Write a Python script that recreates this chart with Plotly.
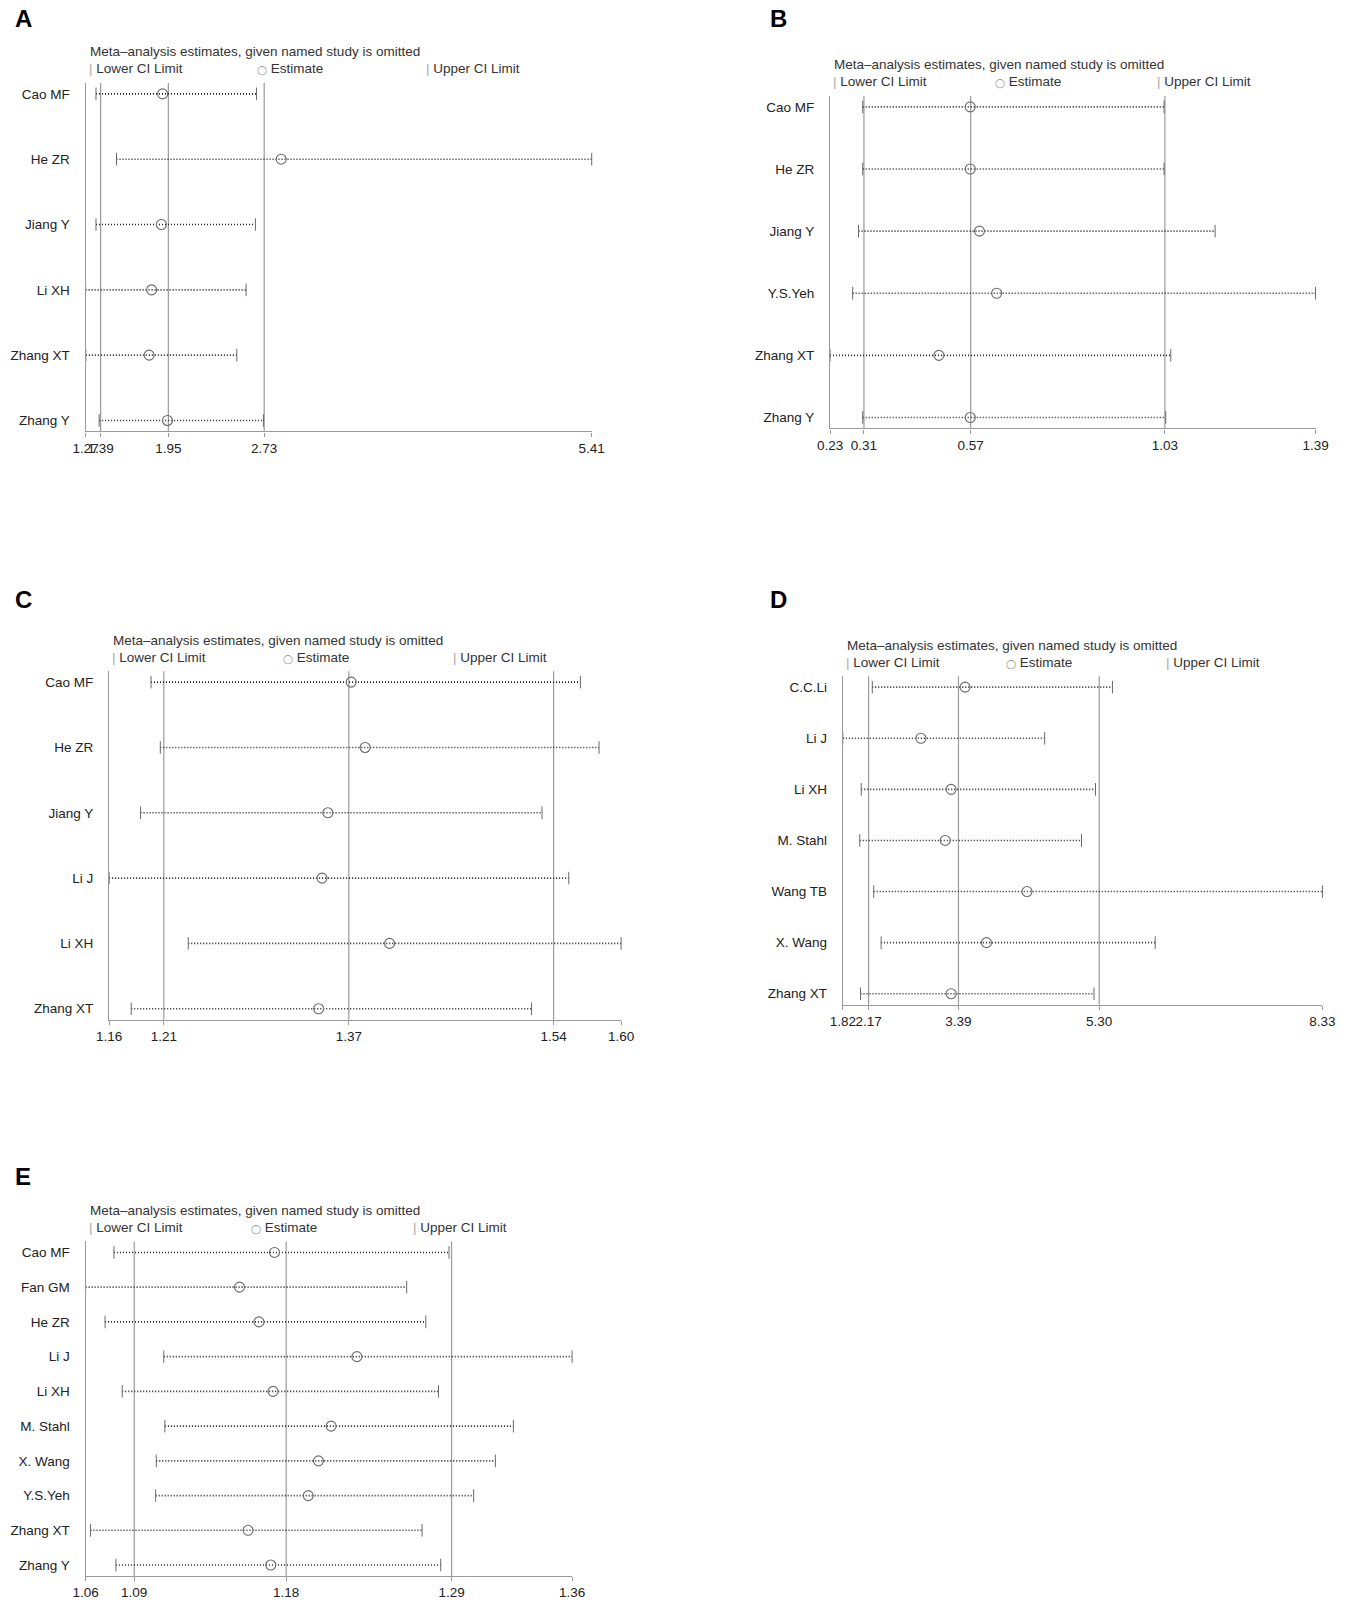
"""Leave-one-out sensitivity plots (panels A-E)"""
import plotly.graph_objects as go

# ---- data ---------------------------------------------------------------
A_studies = ["Cao MF", "He ZR", "Jiang Y", "Li XH", "Zhang XT", "Zhang Y"]
A_est = [1.90, 2.87, 1.89, 1.81, 1.79, 1.94]
A_lower = [1.355, 1.523, 1.355, 1.270, 1.272, 1.381]
A_upper = [2.668, 5.410, 2.659, 2.583, 2.507, 2.725]
A_overall = [1.393, 1.947, 2.731]
A_ticks = ["1.27", "1.39", "1.95", "2.73", "5.41"]

B_studies = ["Cao MF", "He ZR", "Jiang Y", "Y.S.Yeh", "Zhang XT", "Zhang Y"]
B_est = [0.565, 0.565, 0.587, 0.628, 0.490, 0.565]
B_lower = [0.308, 0.308, 0.298, 0.284, 0.230, 0.308]
B_upper = [1.028, 1.028, 1.150, 1.390, 1.044, 1.032]
B_overall = [0.311, 0.566, 1.030]
B_ticks = ["0.23", "0.31", "0.57", "1.03", "1.39"]

C_studies = ["Cao MF", "He ZR", "Jiang Y", "Li J", "Li XH", "Zhang XT"]
C_est = [1.368, 1.380, 1.348, 1.343, 1.401, 1.340]
C_lower = [1.196, 1.204, 1.187, 1.160, 1.228, 1.179]
C_upper = [1.565, 1.581, 1.532, 1.555, 1.600, 1.523]
C_overall = [1.207, 1.366, 1.542]
C_ticks = ["1.16", "1.21", "1.37", "1.54", "1.60"]

D_studies = ["C.C.Li", "Li J", "Li XH", "M. Stahl", "Wang TB", "X. Wang", "Zhang XT"]
D_est = [3.48, 2.88, 3.29, 3.21, 4.32, 3.77, 3.29]
D_lower = [2.22, 1.82, 2.07, 2.05, 2.24, 2.34, 2.06]
D_upper = [5.48, 4.56, 5.25, 5.06, 8.33, 6.06, 5.23]
D_overall = [2.17, 3.39, 5.30]
D_ticks = ["1.82", "2.17", "3.39", "5.30", "8.33"]

E_studies = ["Cao MF", "Fan GM", "He ZR", "Li J", "Li XH", "M. Stahl",
             "X. Wang", "Y.S.Yeh", "Zhang XT", "Zhang Y"]
E_est = [1.1765, 1.1549, 1.1669, 1.2273, 1.1756, 1.2114, 1.2036, 1.1973, 1.1602, 1.1742]
E_lower = [1.0775, 1.0600, 1.0720, 1.1082, 1.0826, 1.1089, 1.1036, 1.1032, 1.0630, 1.0787]
E_upper = [1.2841, 1.2580, 1.2698, 1.3600, 1.2776, 1.3238, 1.3127, 1.2993, 1.2675, 1.2790]
E_overall = [1.090, 1.1837, 1.2857]
E_ticks = ["1.06", "1.09", "1.18", "1.29", "1.36"]

TITLE = "Meta\u2013analysis estimates, given named study is omitted"

W, H = 1358, 1600
FONT = "Liberation Sans, Arial, sans-serif"
FS = 13.5

# plot boxes in pixels: left, right, top, bottom(axis line); letter position
panels = [
    dict(letter="A", studies=A_studies, est=A_est, lo=A_lower, hi=A_upper,
         overall=A_overall, ticks=A_ticks, box=(74, 590, 83, 432), lxy=(0, 3)),
    dict(letter="B", studies=B_studies, est=B_est, lo=B_lower, hi=B_upper,
         overall=B_overall, ticks=B_ticks, box=(833, 1328, 96, 429), lxy=(770, 3)),
    dict(letter="C", studies=C_studies, est=C_est, lo=C_lower, hi=C_upper,
         overall=C_overall, ticks=C_ticks, box=(98, 620, 672, 1021), lxy=(0, 585)),
    dict(letter="D", studies=D_studies, est=D_est, lo=D_lower, hi=D_upper,
         overall=D_overall, ticks=D_ticks, box=(846, 1335, 677, 1006), lxy=(770, 585)),
    dict(letter="E", studies=E_studies, est=E_est, lo=E_lower, hi=E_upper,
         overall=E_overall, ticks=E_ticks, box=(74, 570, 1243, 1578), lxy=(0, 1162)),
]

fig = go.Figure()
layout = {}
shapes = []
annotations = []
PAD = 11  # px between first/last row and the box edge
MARK = "#6a6a6a"

for i, p in enumerate(panels, start=1):
    xa, ya = ("x", "y") if i == 1 else (f"x{i}", f"y{i}")
    left, right, top, bottom = p["box"]
    n = len(p["studies"])
    rows = list(range(1, n + 1))
    step = (bottom - top - 2 * PAD) / (n - 1)
    pad = PAD / step

    # dotted CI segments
    xs, ys = [], []
    for r, lo, hi in zip(rows, p["lo"], p["hi"]):
        xs += [lo, hi, None]
        ys += [r, r, None]
    fig.add_trace(go.Scatter(x=xs, y=ys, mode="lines", xaxis=xa, yaxis=ya,
                             line=dict(color="#222222", width=1.6, dash="1px,2px"),
                             hoverinfo="skip", showlegend=False, cliponaxis=False))
    # end caps
    fig.add_trace(go.Scatter(x=p["lo"] + p["hi"], y=rows + rows, mode="markers",
                             xaxis=xa, yaxis=ya, cliponaxis=False, showlegend=False,
                             marker=dict(symbol="line-ns-open", size=9, color=MARK,
                                         line=dict(color=MARK, width=1))))
    # estimates
    fig.add_trace(go.Scatter(x=p["est"], y=rows, mode="markers", xaxis=xa, yaxis=ya,
                             cliponaxis=False, showlegend=False,
                             marker=dict(symbol="circle-open", size=10, color=MARK,
                                         line=dict(color=MARK, width=1.1))))

    # overall lower / estimate / upper reference lines
    for v in p["overall"]:
        shapes.append(dict(type="line", xref=xa, yref=f"{ya} domain", x0=v, x1=v,
                           y0=0, y1=1, line=dict(color="#9a9a9a", width=1.2),
                           layer="below"))

    xmin, xmax = min(p["lo"]), max(p["hi"])
    key = "" if i == 1 else str(i)
    layout["xaxis" + key] = dict(
        domain=[left / W, right / W], anchor=ya, range=[xmin, xmax],
        tickvals=[xmin] + p["overall"] + [xmax], ticktext=p["ticks"],
        tickangle=0, showgrid=False, zeroline=False, showline=True,
        linecolor="#9a9a9a", linewidth=1.2, ticks="outside", ticklen=4,
        tickcolor="#9a9a9a",
        tickfont=dict(size=FS, color="#222222", family=FONT))
    layout["yaxis" + key] = dict(
        domain=[1 - bottom / H, 1 - top / H], anchor=xa,
        range=[n + pad, 1 - pad], tickvals=rows, ticktext=p["studies"],
        showgrid=False, zeroline=False, showline=True, linecolor="#9a9a9a",
        linewidth=1.2, ticks="", ticklabelstandoff=12,
        tickfont=dict(size=FS, color="#222222", family=FONT))

    # panel letter
    lx, ly = p["lxy"]
    annotations.append(dict(text=f"<b>{p['letter']}</b>", x=lx / W, y=1 - ly / H,
                            xref="paper", yref="paper", xanchor="left", yanchor="top",
                            showarrow=False, font=dict(size=24, color="#000000", family=FONT)))
    # title and legend row
    annotations.append(dict(text=TITLE, x=(left + 2) / W, y=1 - (top - 31) / H,
                            xref="paper", yref="paper", xanchor="left", yanchor="middle",
                            showarrow=False, font=dict(size=FS, color="#333333", family=FONT)))
    third = (right - left) / 3
    legend_items = ["<span style='color:#aaaaaa'>|</span> Lower CI Limit",
                    "<span style='color:#888888;font-size:9px'>\u25ef</span> Estimate",
                    "<span style='color:#aaaaaa'>|</span> Upper CI Limit"]
    for k, txt in enumerate(legend_items):
        annotations.append(dict(text=txt, x=(left + 1 + k * third) / W, y=1 - (top - 14) / H,
                                xref="paper", yref="paper", xanchor="left", yanchor="middle",
                                showarrow=False,
                                font=dict(size=FS, color="#333333", family=FONT)))

fig.update_layout(**layout)
fig.update_layout(width=W, height=H, margin=dict(l=0, r=0, t=0, b=0),
                  paper_bgcolor="white", plot_bgcolor="white",
                  shapes=shapes, annotations=annotations, showlegend=False,
                  font=dict(family=FONT))
fig.write_html("out.html", config={"displayModeBar": False},
               post_script="document.body.style.margin='0';")
